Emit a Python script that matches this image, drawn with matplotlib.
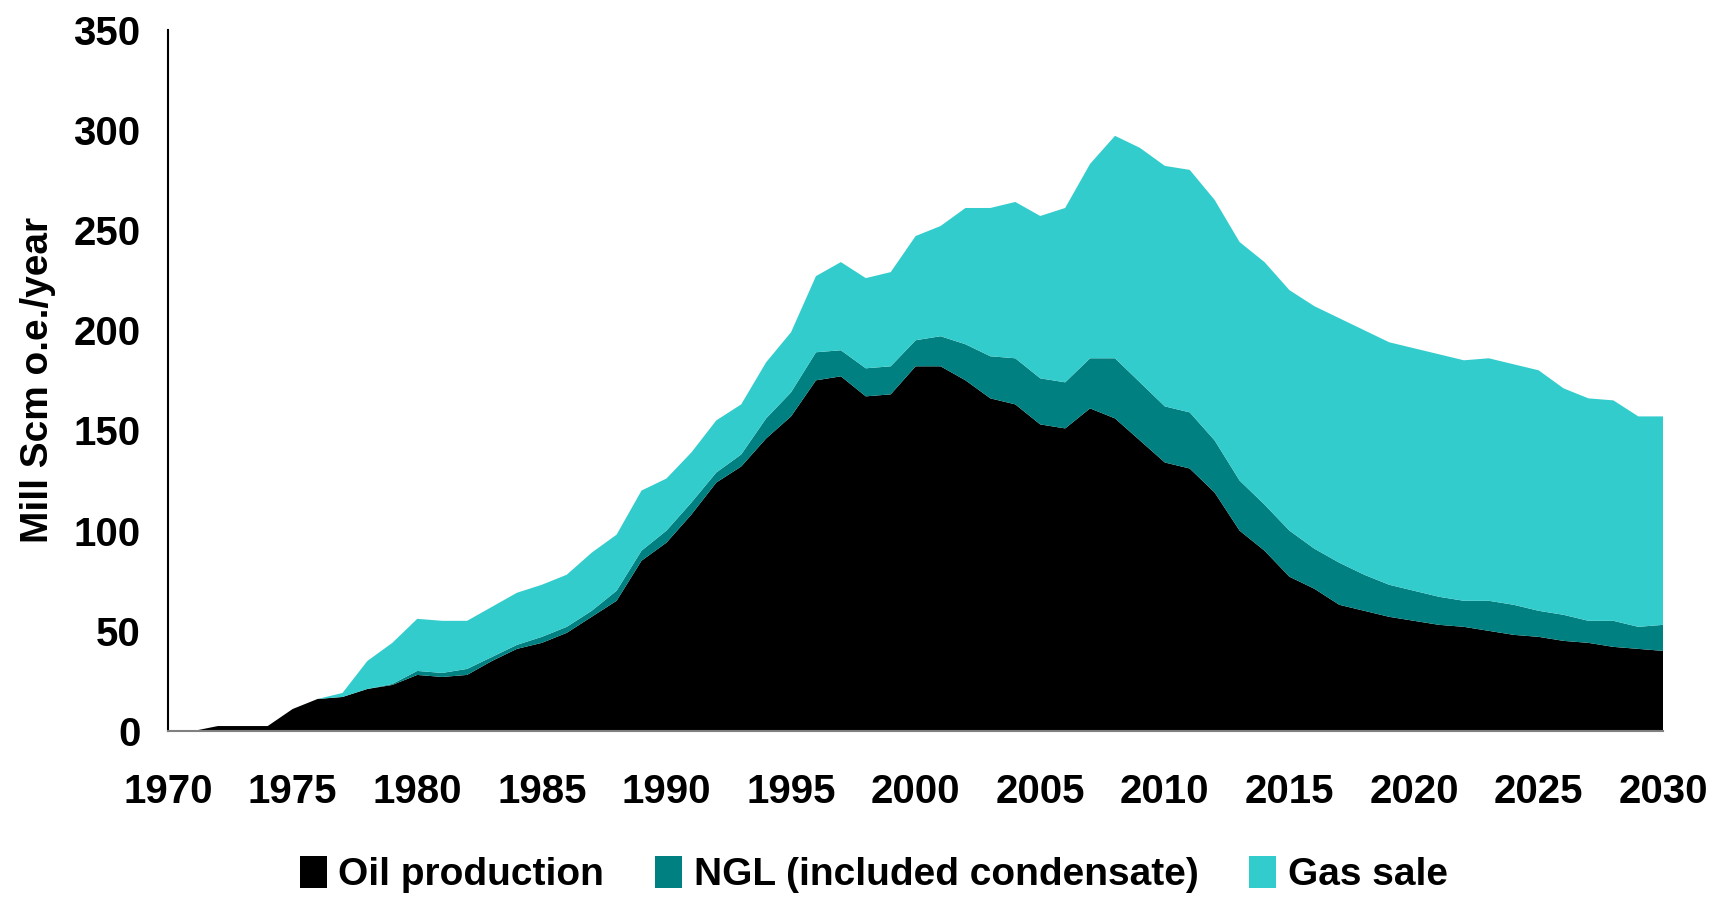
import matplotlib
matplotlib.use("Agg")
import matplotlib.pyplot as plt

years = list(range(1971, 2031))

oil = [0, 2.5, 2.5, 2.5, 11, 16, 17, 21, 23, 28,
       27, 28, 35, 41, 44, 49, 57, 65, 85, 94,
       108, 124, 132, 146, 157, 175, 177, 167, 168, 182,
       182, 175, 166, 163, 153, 151, 161, 156, 145, 134,
       131, 119, 100, 90, 77, 71, 63, 60, 57, 55,
       53, 52, 50, 48, 47, 45, 44, 42, 41, 40]

ngl = [0, 0, 0, 0, 0, 0, 0, 0, 0.5, 2,
       2, 3, 2, 2, 3, 3, 3, 5, 5, 6,
       6, 5, 6, 10, 12, 14, 13, 14, 14, 13,
       15, 18, 21, 23, 23, 23, 25, 30, 29, 28,
       28, 26, 25, 23, 23, 20, 21, 18, 16, 15,
       14, 13, 15, 15, 13, 13, 11, 13, 11, 13]

total = [0, 2.5, 2.5, 2.5, 11, 16, 19, 35, 44, 56,
         55, 55, 62, 69, 73, 78, 89, 98, 120, 126,
         139, 155, 163, 184, 199, 227, 234, 226, 229, 247,
         252, 261, 261, 264, 257, 261, 283, 297, 291, 282,
         280, 265, 244, 234, 220, 212, 206, 200, 194, 191,
         188, 185, 186, 183, 180, 171, 166, 165, 157, 157]

gas = [t - o - n for t, o, n in zip(total, oil, ngl)]

labels = ["Oil production", "NGL (included condensate)", "Gas sale"]
colors = ["#000000", "#008080", "#33CCCC"]

plt.rcParams["font.family"] = ["Liberation Sans", "DejaVu Sans"]
plt.rcParams["font.weight"] = "bold"

fig = plt.figure(figsize=(17.2, 8.97), dpi=100)
ax = fig.add_axes([0.0977, 0.185, 0.8693, 0.782])

ax.stackplot(years, oil, ngl, gas, labels=labels, colors=colors, linewidth=0)

ax.set_xlim(1970, 2030)
ax.set_ylim(0, 350)
ax.set_xticks(range(1970, 2031, 5))
ax.set_yticks(range(0, 351, 50))
ax.tick_params(length=0, labelsize=29)
ax.tick_params(axis="x", pad=30)
ax.tick_params(axis="y", pad=20)
for lab in ax.get_xticklabels() + ax.get_yticklabels():
    lab.set_fontweight("bold")

ax.spines["top"].set_visible(False)
ax.spines["right"].set_visible(False)
ax.spines["left"].set_linewidth(1.5)
ax.spines["bottom"].set_linewidth(1.5)
ax.spines["bottom"].set_color("#808080")

ax.set_ylabel("Mill Scm o.e./year", fontsize=28, fontweight="bold", labelpad=12)

fig.legend(loc="center", ncol=3, frameon=False,
           bbox_to_anchor=(0.508, 0.025), handlelength=0.7, handleheight=0.9,
           handletextpad=0.3, columnspacing=1.3, prop={"weight": "bold", "size": 28})

fig.savefig("out.png", dpi=100)
